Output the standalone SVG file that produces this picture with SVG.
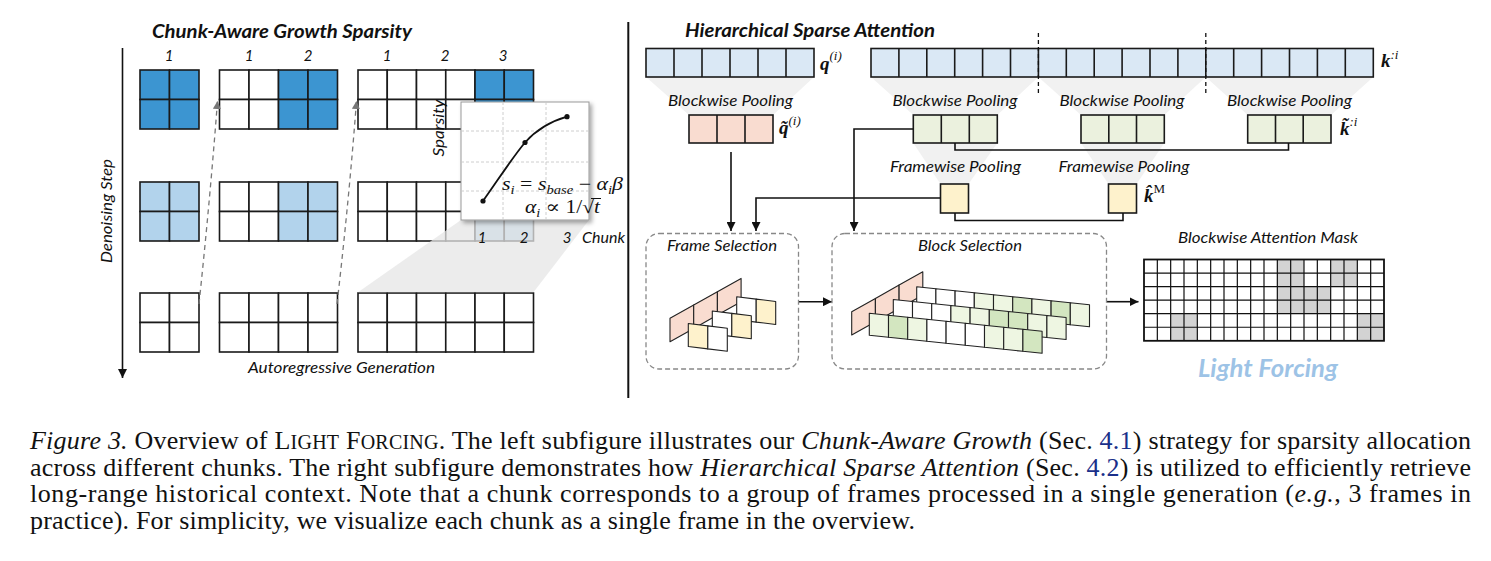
<svg xmlns="http://www.w3.org/2000/svg" width="1491" height="561" viewBox="0 0 1491 561">
<defs>
<style>
.c{stroke:#1a1a1a;stroke-width:1.6}
.w{fill:#fff}
.b{fill:#3C95D1}
.lb{fill:#B2D3EC}
.qb{fill:#DAE8F5}
.pk{fill:#F9DCD0}
.gr{fill:#EBF1DE}
.yl{fill:#FEF2CC}
.lg{fill:#EEF6E2}
.mg{fill:#D3E6C0}
.pc{stroke:#222;stroke-width:1.1;stroke-linejoin:round}
.t{font-family:Lato,"Open Sans",sans-serif;font-style:italic;fill:#111}
.tt{font-family:Lato,"Open Sans",sans-serif;font-style:italic;font-weight:bold;fill:#111}
.m{font-family:"Liberation Serif","DejaVu Serif",serif;font-style:italic;fill:#111}
.cap{font-family:"Liberation Serif","Times New Roman",serif;font-size:26px;fill:#111}
.ln{fill:none;stroke:#111;stroke-width:1.6}
.tr{fill:#F1F1F1}
.dv{fill:none;stroke:#111;stroke-width:1.6}
.dash{fill:none;stroke:#777;stroke-width:1.3;stroke-dasharray:5 4}
.box{fill:none;stroke:#888;stroke-width:1.3;stroke-dasharray:5 3}
.ref{fill:#1a2f8a}
</style>
<marker id="arr" viewBox="0 0 10 10" refX="10" refY="5" markerWidth="9" markerHeight="9" markerUnits="userSpaceOnUse" orient="auto"><path d="M0,0 L10,5 L0,10 z" fill="#111"/></marker>
<marker id="garr" viewBox="0 0 10 10" refX="10" refY="5" markerWidth="8" markerHeight="8" markerUnits="userSpaceOnUse" orient="auto"><path d="M0,0 L10,5 L0,10 z" fill="#777"/></marker>
<filter id="sh" x="-10%" y="-10%" width="130%" height="130%"><feDropShadow dx="2.5" dy="2.5" stdDeviation="2" flood-color="#000" flood-opacity="0.35"/></filter>
</defs>
<rect width="1491" height="561" fill="#fff"/>

<!-- LEFT: Chunk-Aware Growth Sparsity -->
<text class="tt" x="152" y="38" font-size="18.5" textLength="260" lengthAdjust="spacingAndGlyphs">Chunk-Aware Growth Sparsity</text>
<g id="chunk-labels" class="t" font-size="15" text-anchor="middle">
<text x="169" y="61">1</text><text x="249" y="61">1</text><text x="308" y="61">2</text>
<text x="387" y="61">1</text><text x="445" y="61">2</text><text x="503" y="61">3</text>
</g>
<g id="denoising-axis">
<path class="dv" d="M122.5,48 V378" stroke-width="2" marker-end="url(#arr)"/>
<text class="t" font-size="15.5" transform="translate(112,211) rotate(-90)" text-anchor="middle" textLength="104" lengthAdjust="spacingAndGlyphs">Denoising Step</text>
</g>

<g id="row1">
<g id="r1c1" class="c"><rect class="b" x="140" y="70" width="29.5" height="29.5"/><rect class="b" x="169.5" y="70" width="29.5" height="29.5"/><rect class="b" x="140" y="99.5" width="29.5" height="29.5"/><rect class="b" x="169.5" y="99.5" width="29.5" height="29.5"/></g>
<g id="r1c2" class="c"><rect class="w" x="219.5" y="70" width="29.5" height="29.5"/><rect class="w" x="249" y="70" width="29.5" height="29.5"/><rect class="b" x="278.5" y="70" width="29.5" height="29.5"/><rect class="b" x="308" y="70" width="29.5" height="29.5"/><rect class="w" x="219.5" y="99.5" width="29.5" height="29.5"/><rect class="w" x="249" y="99.5" width="29.5" height="29.5"/><rect class="b" x="278.5" y="99.5" width="29.5" height="29.5"/><rect class="b" x="308" y="99.5" width="29.5" height="29.5"/></g>
<g id="r1c3" class="c"><rect class="w" x="358" y="70" width="29.25" height="29.5"/><rect class="w" x="387.25" y="70" width="29.25" height="29.5"/><rect class="w" x="416.5" y="70" width="29.25" height="29.5"/><rect class="w" x="445.75" y="70" width="29.25" height="29.5"/><rect class="b" x="475" y="70" width="29.25" height="29.5"/><rect class="b" x="504.25" y="70" width="29.25" height="29.5"/><rect class="w" x="358" y="99.5" width="29.25" height="29.5"/><rect class="w" x="387.25" y="99.5" width="29.25" height="29.5"/><rect class="w" x="416.5" y="99.5" width="29.25" height="29.5"/><rect class="w" x="445.75" y="99.5" width="29.25" height="29.5"/><rect class="b" x="475" y="99.5" width="29.25" height="29.5"/><rect class="b" x="504.25" y="99.5" width="29.25" height="29.5"/></g>
</g>
<g id="row2">
<g id="r2c1" class="c"><rect class="lb" x="140" y="182" width="29.5" height="29.5"/><rect class="lb" x="169.5" y="182" width="29.5" height="29.5"/><rect class="lb" x="140" y="211.5" width="29.5" height="29.5"/><rect class="lb" x="169.5" y="211.5" width="29.5" height="29.5"/></g>
<g id="r2c2" class="c"><rect class="w" x="219.5" y="182" width="29.5" height="29.5"/><rect class="w" x="249" y="182" width="29.5" height="29.5"/><rect class="lb" x="278.5" y="182" width="29.5" height="29.5"/><rect class="lb" x="308" y="182" width="29.5" height="29.5"/><rect class="w" x="219.5" y="211.5" width="29.5" height="29.5"/><rect class="w" x="249" y="211.5" width="29.5" height="29.5"/><rect class="lb" x="278.5" y="211.5" width="29.5" height="29.5"/><rect class="lb" x="308" y="211.5" width="29.5" height="29.5"/></g>
<g id="r2c3" class="c"><rect class="w" x="358" y="182" width="29.25" height="29.5"/><rect class="w" x="387.25" y="182" width="29.25" height="29.5"/><rect class="w" x="416.5" y="182" width="29.25" height="29.5"/><rect class="w" x="445.75" y="182" width="29.25" height="29.5"/><rect class="lb" x="475" y="182" width="29.25" height="29.5"/><rect class="lb" x="504.25" y="182" width="29.25" height="29.5"/><rect class="w" x="358" y="211.5" width="29.25" height="29.5"/><rect class="w" x="387.25" y="211.5" width="29.25" height="29.5"/><rect class="w" x="416.5" y="211.5" width="29.25" height="29.5"/><rect class="w" x="445.75" y="211.5" width="29.25" height="29.5"/><rect class="lb" x="475" y="211.5" width="29.25" height="29.5"/><rect class="lb" x="504.25" y="211.5" width="29.25" height="29.5"/></g>
</g>
<g id="row3">
<g id="r3c1" class="c"><rect class="w" x="140" y="293" width="29.5" height="29.5"/><rect class="w" x="169.5" y="293" width="29.5" height="29.5"/><rect class="w" x="140" y="322.5" width="29.5" height="29.5"/><rect class="w" x="169.5" y="322.5" width="29.5" height="29.5"/></g>
<g id="r3c2" class="c"><rect class="w" x="219.5" y="293" width="29.5" height="29.5"/><rect class="w" x="249" y="293" width="29.5" height="29.5"/><rect class="w" x="278.5" y="293" width="29.5" height="29.5"/><rect class="w" x="308" y="293" width="29.5" height="29.5"/><rect class="w" x="219.5" y="322.5" width="29.5" height="29.5"/><rect class="w" x="249" y="322.5" width="29.5" height="29.5"/><rect class="w" x="278.5" y="322.5" width="29.5" height="29.5"/><rect class="w" x="308" y="322.5" width="29.5" height="29.5"/></g>
<g id="r3c3" class="c"><rect class="w" x="358" y="293" width="29.25" height="29.5"/><rect class="w" x="387.25" y="293" width="29.25" height="29.5"/><rect class="w" x="416.5" y="293" width="29.25" height="29.5"/><rect class="w" x="445.75" y="293" width="29.25" height="29.5"/><rect class="w" x="475" y="293" width="29.25" height="29.5"/><rect class="w" x="504.25" y="293" width="29.25" height="29.5"/><rect class="w" x="358" y="322.5" width="29.25" height="29.5"/><rect class="w" x="387.25" y="322.5" width="29.25" height="29.5"/><rect class="w" x="416.5" y="322.5" width="29.25" height="29.5"/><rect class="w" x="445.75" y="322.5" width="29.25" height="29.5"/><rect class="w" x="475" y="322.5" width="29.25" height="29.5"/><rect class="w" x="504.25" y="322.5" width="29.25" height="29.5"/></g>
</g>

<g id="left-connectors">
<path class="dash" d="M199,304 Q210,200 217.5,101" marker-end="url(#garr)"/>
<path class="dash" d="M337,304 Q349,200 356.5,101" marker-end="url(#garr)"/>
<polygon points="358,292.2 533.5,292.2 589,220 461,220" fill="#E6E6E6" opacity="0.75"/>
</g>
<text class="t" font-size="15.5" x="248" y="373" textLength="187" lengthAdjust="spacingAndGlyphs">Autoregressive Generation</text>

<g id="sparsity-chart">
<rect x="461" y="102" width="128" height="118" fill="#fff" stroke="#999" stroke-width="1" filter="url(#sh)"/>
<path d="M503,102 V220 M546,102 V220 M461,131 H589 M461,162 H589 M461,191 H589" fill="none" stroke="#C8C8C8" stroke-width="0.9" stroke-dasharray="3 2"/>
<path d="M483,201 C498,180 512,158 525,142.5 C538,128 552,121 567,116.7" fill="none" stroke="#111" stroke-width="1.8"/>
<circle cx="483" cy="201" r="2.6" fill="#111"/><circle cx="525" cy="142.5" r="2.6" fill="#111"/><circle cx="567" cy="116.7" r="2.6" fill="#111"/>
<text class="t" font-size="16" transform="translate(444,128) rotate(-90)" text-anchor="middle" textLength="57" lengthAdjust="spacingAndGlyphs">Sparsity</text>
<text class="m" font-size="18" x="502" y="190" textLength="121" lengthAdjust="spacingAndGlyphs">s<tspan font-size="12" dy="4">i</tspan><tspan dy="-4" font-style="normal"> = </tspan>s<tspan font-size="12" dy="4">base</tspan><tspan dy="-4" font-style="normal"> − </tspan>α<tspan font-size="12" dy="4">i</tspan><tspan dy="-4">β</tspan></text>
<text class="m" font-size="18" x="525" y="213" textLength="75" lengthAdjust="spacingAndGlyphs">α<tspan font-size="12" dy="4">i</tspan><tspan dy="-4" font-style="normal"> ∝ 1/√</tspan>t</text>
<path d="M591,198.5 H601" stroke="#111" stroke-width="1"/>
<g class="t" font-size="15" text-anchor="middle"><text x="482" y="243">1</text><text x="524" y="243">2</text><text x="567" y="243">3</text></g>
<text class="t" font-size="15.5" x="582" y="243" textLength="43" lengthAdjust="spacingAndGlyphs">Chunk</text>
</g>

<path id="divider" d="M628.3,22 V398" stroke="#111" stroke-width="2"/>

<!-- RIGHT: Hierarchical Sparse Attention -->
<text class="tt" x="685" y="37" font-size="18.5" textLength="250" lengthAdjust="spacingAndGlyphs">Hierarchical Sparse Attention</text>

<g id="pool-trapezoids">
<polygon class="tr" points="646,77 814,77 773,115 689,115"/>
<polygon class="tr" points="871,77 1038.4,77 997.3,115 913.3,115"/>
<polygon class="tr" points="1038.4,77 1205.8,77 1164.3,115 1081,115"/>
<polygon class="tr" points="1205.8,77 1373.3,77 1331,115 1247.7,115"/>
<polygon class="tr" points="913.3,143 997.3,143 968.5,184 940.5,184"/>
<polygon class="tr" points="1081,143 1164.3,143 1136.5,184 1108.5,184"/>
</g>

<g id="q-bar">
<rect class="qb c" x="646" y="48.5" width="168" height="28.5"/>
<path class="c" d="M674,48.5 V77 M702,48.5 V77 M730,48.5 V77 M758,48.5 V77 M786,48.5 V77"/>
<text class="m" x="820" y="70" font-size="19" font-weight="bold">q<tspan font-size="13" dy="-10" font-weight="normal">(i)</tspan></text>
</g>
<g id="k-bar">
<rect class="qb c" x="871" y="48.5" width="502.3" height="28.5"/>
<path class="c" d="M898.9,48.5 V77 M926.8,48.5 V77 M954.7,48.5 V77 M982.6,48.5 V77 M1010.5,48.5 V77 M1038.4,48.5 V77 M1066.3,48.5 V77 M1094.2,48.5 V77 M1122.1,48.5 V77 M1150,48.5 V77 M1177.9,48.5 V77 M1205.8,48.5 V77 M1233.7,48.5 V77 M1261.6,48.5 V77 M1289.5,48.5 V77 M1317.4,48.5 V77 M1345.3,48.5 V77"/>
<path d="M1038.4,33 V93 M1205.8,33 V93" fill="none" stroke="#111" stroke-width="1.3" stroke-dasharray="4 3"/>
<text class="m" x="1381" y="67" font-size="19" font-weight="bold">k<tspan font-size="13" dy="-8" font-weight="normal">:i</tspan></text>
</g>

<g id="pool-labels" class="t" font-size="16" text-anchor="middle">
<text x="730.5" y="105.5" textLength="125" lengthAdjust="spacingAndGlyphs">Blockwise Pooling</text>
<text x="955" y="105.5" textLength="125" lengthAdjust="spacingAndGlyphs">Blockwise Pooling</text>
<text x="1122" y="105.5" textLength="125" lengthAdjust="spacingAndGlyphs">Blockwise Pooling</text>
<text x="1289.5" y="105.5" textLength="125" lengthAdjust="spacingAndGlyphs">Blockwise Pooling</text>
<text x="955.5" y="172" textLength="131" lengthAdjust="spacingAndGlyphs">Framewise Pooling</text>
<text x="1124" y="172" textLength="131" lengthAdjust="spacingAndGlyphs">Framewise Pooling</text>
</g>

<g id="q-pooled">
<rect class="pk c" x="689" y="115" width="84" height="28"/>
<path class="c" d="M717,115 V143 M745,115 V143"/>
<text class="m" x="779" y="134" font-size="19" font-weight="bold">q̃<tspan font-size="13" dy="-9" font-weight="normal">(i)</tspan></text>
</g>
<g id="k-pooled-1"><rect class="gr c" x="913.3" y="115" width="84" height="28"/><path class="c" d="M941.3,115 V143 M969.3,115 V143"/></g>
<g id="k-pooled-2"><rect class="gr c" x="1081" y="115" width="83.3" height="28"/><path class="c" d="M1108.8,115 V143 M1136.5,115 V143"/></g>
<g id="k-pooled-3"><rect class="gr c" x="1247.7" y="115" width="83.3" height="28"/><path class="c" d="M1275.5,115 V143 M1303.2,115 V143"/>
<text class="m" x="1340" y="135" font-size="19" font-weight="bold">k̃<tspan font-size="13" dy="-9" font-weight="normal">:i</tspan></text></g>
<g id="k-frame-1"><rect class="yl c" x="940.5" y="184" width="28" height="29"/></g>
<g id="k-frame-2"><rect class="yl c" x="1108.5" y="184" width="28" height="29"/>
<text class="m" x="1144" y="202" font-size="19" font-weight="bold">k̂<tspan font-size="13" dy="-9" font-weight="normal" font-style="normal">M</tspan></text></g>

<g id="connectors">
<path class="ln" d="M955,143 V150 H1288.5 V143"/>
<path class="ln" d="M955,213 V220.5 H1123 V213"/>
<path class="ln" d="M731,152 V231" marker-end="url(#arr)"/>
<path class="ln" d="M940.5,198 H756 V231" marker-end="url(#arr)"/>
<path class="ln" d="M913.3,129 H854 V231" marker-end="url(#arr)"/>
<path class="ln" d="M798.5,301.7 H832" marker-end="url(#arr)"/>
<path class="ln" d="M1107,301.7 H1138.5" marker-end="url(#arr)"/>
</g>

<g id="frame-selection">
<rect class="box" x="646" y="233.5" width="152.5" height="135.5" rx="13"/>
<text class="t" font-size="15.5" x="667" y="251" textLength="110" lengthAdjust="spacingAndGlyphs">Frame Selection</text>
<g class="pc">
<polygon class="pk" points="670,318.3 693.7,305 693.7,328.4 670,341.7"/>
<polygon class="pk" points="693.7,305 717.4,291.7 717.4,315.1 693.7,328.4"/>
<polygon class="pk" points="717.4,291.7 741.1,278.4 741.1,301.8 717.4,315.1"/>
<polygon class="w" points="736.7,296.7 756.2,299.1 756.2,322.1 736.7,319.7"/>
<polygon class="yl" points="756.2,299.1 775.7,301.5 775.7,324.5 756.2,322.1"/>
<polygon class="w" points="712.3,311 731.8,313.4 731.8,336.4 712.3,334"/>
<polygon class="yl" points="731.8,313.4 751.3,315.8 751.3,338.8 731.8,336.4"/>
<polygon class="yl" points="688.3,323.5 707.8,325.9 707.8,348.9 688.3,346.5"/>
<polygon class="w" points="707.8,325.9 727.3,328.3 727.3,351.3 707.8,348.9"/>
</g>
</g>

<g id="block-selection">
<rect class="box" x="832" y="233.5" width="274.5" height="135.5" rx="13"/>
<text class="t" font-size="15.5" x="918" y="251" textLength="104" lengthAdjust="spacingAndGlyphs">Block Selection</text>
<g class="pc">
<polygon class="pk" points="851.7,311.7 875.4,298.4 875.4,321.7 851.7,335"/>
<polygon class="pk" points="875.4,298.4 899.1,285.1 899.1,308.4 875.4,321.7"/>
<polygon class="pk" points="899.1,285.1 922.8,271.8 922.8,295.1 899.1,308.4"/>
<polygon class="w" points="916.7,286.7 935.9,288.7 935.9,310.7 916.7,308.7"/>
<polygon class="w" points="935.9,288.7 955.1,290.7 955.1,312.7 935.9,310.7"/>
<polygon class="w" points="955.1,290.7 974.3,292.7 974.3,314.7 955.1,312.7"/>
<polygon class="lg" points="974.3,292.7 993.5,294.7 993.5,316.7 974.3,314.7"/>
<polygon class="lg" points="993.5,294.7 1012.7,296.7 1012.7,318.7 993.5,316.7"/>
<polygon class="mg" points="1012.7,296.7 1031.9,298.7 1031.9,320.7 1012.7,318.7"/>
<polygon class="lg" points="1031.9,298.7 1051.1,300.7 1051.1,322.7 1031.9,320.7"/>
<polygon class="mg" points="1051.1,300.7 1070.3,302.7 1070.3,324.7 1051.1,322.7"/>
<polygon class="lg" points="1070.3,302.7 1089.5,304.7 1089.5,326.7 1070.3,324.7"/>
<polygon class="w" points="893.3,299.5 912.5,301.5 912.5,323.5 893.3,321.5"/>
<polygon class="w" points="912.5,301.5 931.7,303.5 931.7,325.5 912.5,323.5"/>
<polygon class="w" points="931.7,303.5 950.9,305.5 950.9,327.5 931.7,325.5"/>
<polygon class="lg" points="950.9,305.5 970.1,307.5 970.1,329.5 950.9,327.5"/>
<polygon class="lg" points="970.1,307.5 989.3,309.5 989.3,331.5 970.1,329.5"/>
<polygon class="mg" points="989.3,309.5 1008.5,311.5 1008.5,333.5 989.3,331.5"/>
<polygon class="mg" points="1008.5,311.5 1027.7,313.5 1027.7,335.5 1008.5,333.5"/>
<polygon class="lg" points="1027.7,313.5 1046.9,315.5 1046.9,337.5 1027.7,335.5"/>
<polygon class="lg" points="1046.9,315.5 1066.1,317.5 1066.1,339.5 1046.9,337.5"/>
<polygon class="lg" points="869.3,313.3 888.5,315.3 888.5,337.3 869.3,335.3"/>
<polygon class="mg" points="888.5,315.3 907.7,317.3 907.7,339.3 888.5,337.3"/>
<polygon class="lg" points="907.7,317.3 926.9,319.3 926.9,341.3 907.7,339.3"/>
<polygon class="w" points="926.9,319.3 946.1,321.3 946.1,343.3 926.9,341.3"/>
<polygon class="w" points="946.1,321.3 965.3,323.3 965.3,345.3 946.1,343.3"/>
<polygon class="w" points="965.3,323.3 984.5,325.3 984.5,347.3 965.3,345.3"/>
<polygon class="lg" points="984.5,325.3 1003.7,327.3 1003.7,349.3 984.5,347.3"/>
<polygon class="lg" points="1003.7,327.3 1022.9,329.3 1022.9,351.3 1003.7,349.3"/>
<polygon class="mg" points="1022.9,329.3 1042.1,331.3 1042.1,353.3 1022.9,351.3"/>
</g>
</g>

<g id="attention-mask">
<text class="t" font-size="15.5" x="1178" y="243" textLength="180" lengthAdjust="spacingAndGlyphs">Blockwise Attention Mask</text>
<rect x="1144" y="259.5" width="240" height="81.3" fill="#fff"/>
<g fill="#D3D3D3">
<rect x="1277.33" y="259.5" width="26.67" height="54.2"/>
<rect x="1304" y="286.6" width="26.67" height="27.1"/>
<rect x="1330.67" y="259.5" width="26.67" height="27.1"/>
<rect x="1170.67" y="313.7" width="26.67" height="27.1"/>
<rect x="1357.33" y="313.7" width="26.67" height="27.1"/>
</g>
<path fill="none" stroke="#111" stroke-width="1.2" d="M1157.33,259.5 V340.8 M1170.67,259.5 V340.8 M1184,259.5 V340.8 M1197.33,259.5 V340.8 M1210.67,259.5 V340.8 M1224,259.5 V340.8 M1237.33,259.5 V340.8 M1250.67,259.5 V340.8 M1264,259.5 V340.8 M1277.33,259.5 V340.8 M1290.67,259.5 V340.8 M1304,259.5 V340.8 M1317.33,259.5 V340.8 M1330.67,259.5 V340.8 M1344,259.5 V340.8 M1357.33,259.5 V340.8 M1370.67,259.5 V340.8 M1144,273.05 H1384 M1144,286.6 H1384 M1144,300.15 H1384 M1144,313.7 H1384 M1144,327.25 H1384"/>
<rect x="1144" y="259.5" width="240" height="81.3" fill="none" stroke="#111" stroke-width="1.8"/>
<text class="tt" font-size="24" x="1198" y="377" style="fill:#9DC3E6" textLength="140" lengthAdjust="spacingAndGlyphs">Light Forcing</text>
</g>

<g id="caption" class="cap">
<text x="30" y="449" textLength="1441" lengthAdjust="spacing"><tspan font-style="italic">Figure 3.</tspan> Overview of L<tspan font-size="20">IGHT</tspan> F<tspan font-size="20">ORCING</tspan>. The left subfigure illustrates our  <tspan font-style="italic">Chunk-Aware Growth</tspan> (Sec. <tspan class="ref">4.1</tspan>) strategy for sparsity allocation</text>
<text x="30" y="475.5" textLength="1441" lengthAdjust="spacing">across different chunks. The right subfigure demonstrates how <tspan font-style="italic">Hierarchical Sparse Attention</tspan> (Sec. <tspan class="ref">4.2</tspan>) is utilized to efficiently retrieve</text>
<text x="30" y="502" textLength="1441" lengthAdjust="spacing">long-range historical context. Note that a chunk corresponds to a group of frames processed in a single generation (<tspan font-style="italic">e.g.</tspan>, 3 frames in</text>
<text x="30" y="528.5" textLength="885" lengthAdjust="spacing">practice). For simplicity, we visualize each chunk as a single frame in the overview.</text>
</g>
</svg>
